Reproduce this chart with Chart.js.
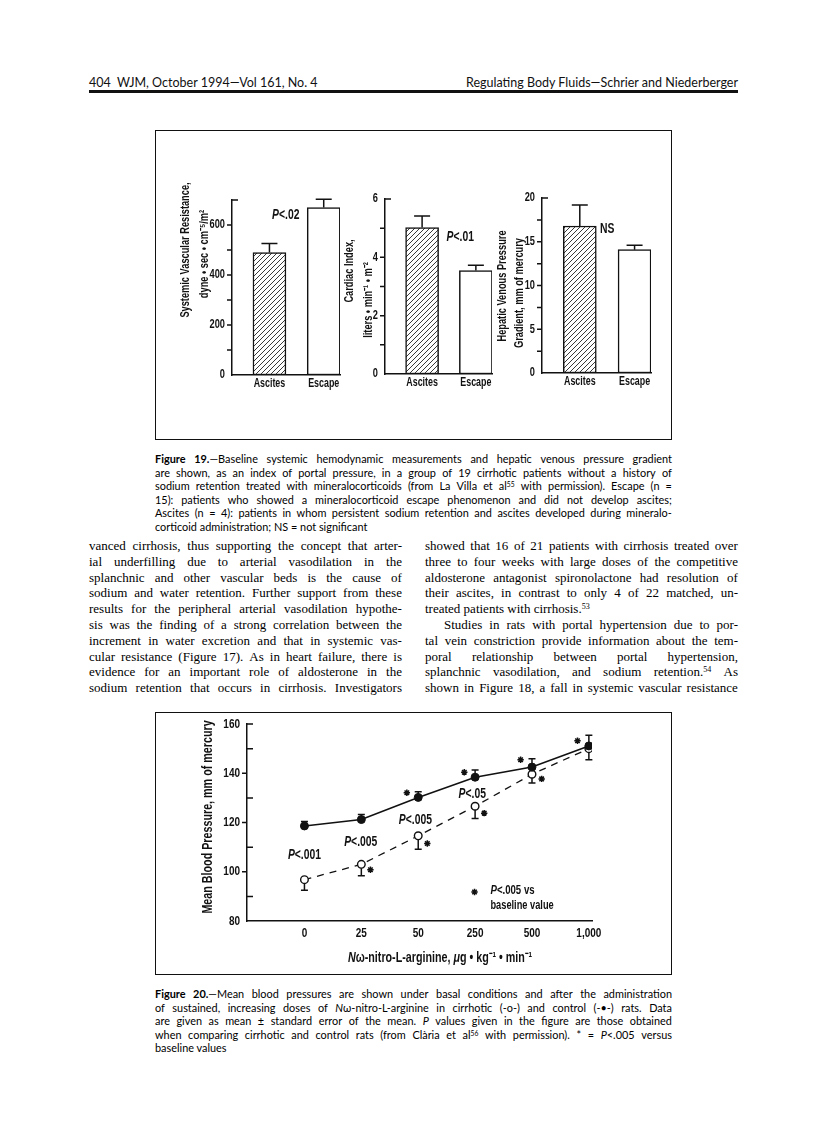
<!DOCTYPE html>
<html>
<head>
<meta charset="utf-8">
<script src="https://cdn.jsdelivr.net/npm/chart.js@4.4.0/dist/chart.umd.min.js"></script>
<style>
html, body { margin: 0; padding: 0; background: #fff; }
body { width: 816px; height: 1121px; position: relative; overflow: hidden; color: #111; }
.abs { position: absolute; }
.hdr { font-family: Lato, "Open Sans", sans-serif; font-size: 12.5px; line-height: 15px; top: 75px; white-space: nowrap; }
.rule { left: 89px; width: 649px; top: 90px; height: 3px; background: #111; }
.box { border: 1.5px solid #111; box-sizing: border-box; }
.cap { font-family: Lato, "Open Sans", sans-serif; font-size: 10.9px; line-height: 13.5px; left: 155px; width: 517px; color: #000; }
.body { font-family: "Liberation Serif", "Times New Roman", serif; font-size: 13px; line-height: 15.8px; width: 313px; color: #000; }
.j { display: flex; justify-content: space-between; white-space: nowrap; }
.l { white-space: nowrap; }
.ind { padding-left: 19px; }
sup { font-size: 62%; line-height: 0; vertical-align: 0.45em; }
canvas { position: absolute; }
</style>
</head>
<body>

<div class="abs hdr" style="left:89px">404&nbsp;&nbsp;WJM, October 1994—Vol 161, No. 4</div>
<div class="abs hdr" style="right:78px">Regulating Body Fluids—Schrier and Niederberger</div>
<div class="abs rule"></div>

<!-- Figure 19 -->
<div class="abs box" style="left:155px;top:130px;width:517px;height:310px"></div>
<canvas id="svrChart" width="190" height="225" style="left:160px;top:180px"></canvas>
<canvas id="ciChart" width="165" height="225" style="left:338px;top:180px"></canvas>
<canvas id="hvpgChart" width="170" height="225" style="left:492px;top:180px"></canvas>

<div class="abs cap" style="top:452px">
  <div class="j"><b>Figure</b> <b>19.</b>—Baseline systemic hemodynamic measurements and hepatic venous pressure gradient</div>
  <div class="j">are shown, as an index of portal pressure, in a group of 19 cirrhotic patients without a history of</div>
  <div class="j">sodium retention treated with mineralocorticoids (from La Villa et al<sup>55</sup> with permission). Escape (n =</div>
  <div class="j">15): patients who showed a mineralocorticoid escape phenomenon and did not develop ascites;</div>
  <div class="j">Ascites (n = 4): patients in whom persistent sodium retention and ascites developed during mineralo-</div>
  <div class="l">corticoid administration; NS = not significant</div>
</div>

<div class="abs body" style="left:89px;top:538px">
  <div class="j">vanced cirrhosis, thus supporting the concept that arter-</div>
  <div class="j">ial underfilling due to arterial vasodilation in the</div>
  <div class="j">splanchnic and other vascular beds is the cause of</div>
  <div class="j">sodium and water retention. Further support from these</div>
  <div class="j">results for the peripheral arterial vasodilation hypothe-</div>
  <div class="j">sis was the finding of a strong correlation between the</div>
  <div class="j">increment in water excretion and that in systemic vas-</div>
  <div class="j">cular resistance (Figure 17). As in heart failure, there is</div>
  <div class="j">evidence for an important role of aldosterone in the</div>
  <div class="j">sodium retention that occurs in cirrhosis. Investigators</div>
</div>
<div class="abs body" style="left:425px;top:538px">
  <div class="j">showed that 16 of 21 patients with cirrhosis treated over</div>
  <div class="j">three to four weeks with large doses of the competitive</div>
  <div class="j">aldosterone antagonist spironolactone had resolution of</div>
  <div class="j">their ascites, in contrast to only 4 of 22 matched, un-</div>
  <div class="l">treated patients with cirrhosis.<sup>53</sup></div>
  <div class="j ind">Studies in rats with portal hypertension due to por-</div>
  <div class="j">tal vein constriction provide information about the tem-</div>
  <div class="j">poral relationship between portal hypertension,</div>
  <div class="j">splanchnic vasodilation, and sodium retention.<sup>54</sup> As</div>
  <div class="j">shown in Figure 18, a fall in systemic vascular resistance</div>
</div>

<!-- Figure 20 -->
<div class="abs box" style="left:155px;top:712px;width:517px;height:263px"></div>
<canvas id="mapChart" width="517" height="263" style="left:155px;top:712px"></canvas>

<div class="abs cap" style="top:987px">
  <div class="j"><b>Figure</b> <b>20.</b>—Mean blood pressures are shown under basal conditions and after the administration</div>
  <div class="j">of sustained, increasing doses of <i>N</i>ω-nitro-L-arginine in cirrhotic (-o-) and control (-•-) rats. Data</div>
  <div class="j">are given as mean ± standard error of the mean. <i>P</i> values given in the figure are those obtained</div>
  <div class="j">when comparing cirrhotic and control rats (from Clària et al<sup>56</sup> with permission). * = <i>P</i>&lt;.005 versus</div>
  <div class="l">baseline values</div>
</div>

<script>
"use strict";

// ---- figure 19 data ----
var groups = ["Ascites", "Escape"];
var svrMean = [490, 670];
var svrSem = [36, 33];
var ciMean = [5.02, 3.55];
var ciSem = [0.4, 0.18];
var hvpgMean = [16.8, 14.1];
var hvpgSem = [2.4, 0.5];

// ---- figure 20 data ----
var doses = ["0", "25", "50", "250", "500", "1,000"];
var controlMean = [118.6, 121.2, 130.2, 138.4, 142.5, 151.1];
var controlSem = [1.8, 2, 2.3, 2.9, 3.4, 4.3];
var cirrhoticMean = [96.8, 103, 114.6, 126.6, 139.6, 150];
var cirrhoticSem = [4.3, 4.6, 5.5, 5, 3.6, 4.5];
// asterisks = P<.005 vs baseline, sitting beside the points
var starX = [1.8, 2.81, 3.8, 4.8, 1.16, 2.16, 3.16, 4.17, 5.15];
var starY = [132.1, 140.4, 145.5, 153.2, 100.8, 111.5, 123.8, 137.7, 147.8];
var keyStarX = [2.99];
var keyStarY = [91.8];
// P values between the two groups
var pNotes = ["P<.001", "P<.005", "P<.005", "P<.05"];
var pNoteX = [0, 0.99, 1.95, 2.95];
var pNoteY = [106.6, 112.2, 120.9, 131.4];

var INK = "#111";
var SANS = '"Liberation Sans", Arial, sans-serif';
var SQUEEZE = 0.74; // helvetica condensed look

Chart.defaults.font.family = SANS;
Chart.defaults.color = INK;
Chart.defaults.animation = false;
Chart.defaults.plugins.legend.display = false;
Chart.defaults.plugins.tooltip.enabled = false;

// split justified lines into words
document.querySelectorAll(".j").forEach(function (el) {
  el.innerHTML = el.innerHTML.trim().split(/\s+/).map(function (w) {
    return "<span>" + w + "</span>";
  }).join("");
});

// text pieces, "P" in italic
function pSegs(str) {
  if (str.charAt(0) == "P") return [{ t: "P", i: true }, { t: str.slice(1) }];
  return [{ t: str }];
}

function richText(ctx, segs, x, y, size, align, weight) {
  var fonts = segs.map(function (s) {
    return (s.i ? "italic " : "") + (weight || "bold") + " " + size + "px " + SANS;
  });
  var w = 0;
  segs.forEach(function (s, k) { ctx.font = fonts[k]; w += ctx.measureText(s.t).width * SQUEEZE; });
  var cx = align == "center" ? x - w / 2 : align == "right" ? x - w : x;
  ctx.textAlign = "left";
  ctx.textBaseline = "middle";
  segs.forEach(function (s, k) {
    ctx.font = fonts[k];
    ctx.save();
    ctx.translate(cx, y);
    ctx.scale(SQUEEZE, 1);
    ctx.fillText(s.t, 0, 0);
    ctx.restore();
    cx += ctx.measureText(s.t).width * SQUEEZE;
  });
}

// texts: either at a data point (x,y) or at a canvas spot (px,py)
function textLayer(items) {
  return {
    id: "textLayer",
    afterDraw: function (chart) {
      var ctx = chart.ctx, xs = chart.scales.x, ys = chart.scales.y;
      ctx.save();
      ctx.fillStyle = INK;
      items.forEach(function (it) {
        var x = it.px, y = it.py;
        if (it.x !== undefined) { x = xs.getPixelForValue(it.x); y = ys.getPixelForValue(it.y); }
        ctx.save();
        ctx.translate(x, y);
        if (it.rot) ctx.rotate(-Math.PI / 2);
        richText(ctx, it.segs, 0, 0, it.size, it.align || "center", it.weight);
        ctx.restore();
      });
      ctx.restore();
    }
  };
}

// tick marks and tick labels in the condensed face, taken from the chart's scales
function axisDecor(cfg) {
  return {
    id: "axisDecor",
    afterDraw: function (chart) {
      var ys = chart.scales.y, xs = chart.scales.x, ctx = chart.ctx, area = chart.chartArea;
      var x0 = area.left;
      ctx.save();
      ctx.strokeStyle = INK;
      ctx.fillStyle = INK;
      ctx.lineWidth = 1.5;
      ctx.beginPath();
      ys.ticks.forEach(function (t) {
        var y = ys.getPixelForValue(t.value);
        var r = t.value / cfg.majorStep;
        var major = Math.abs(r - Math.round(r)) < 1e-6;
        if (t.label !== "") richText(ctx, [{ t: String(t.label) }], x0 - cfg.yGap, y, cfg.size, "right");
        if (t.value == ys.min) return;
        var inward = t.value == ys.max || (!major && cfg.minorIn);
        ctx.moveTo(x0, y);
        ctx.lineTo(inward ? x0 + 6 : x0 - 5, y);
      });
      ctx.stroke();
      xs.ticks.forEach(function (t) {
        richText(ctx, [{ t: String(t.label) }], xs.getPixelForValue(t.value), area.bottom + cfg.xOff, cfg.xSize || cfg.size, "center");
      });
      ctx.restore();
    }
  };
}

var errorBars = {
  id: "errorBars",
  beforeDatasetsDraw: function (chart) {
    var ctx = chart.ctx, ys = chart.scales.y;
    chart.data.datasets.forEach(function (ds, i) {
      if (!ds.errors) return;
      var meta = chart.getDatasetMeta(i);
      ctx.save();
      ctx.strokeStyle = INK;
      ctx.lineWidth = 1.5;
      ctx.beginPath();
      meta.data.forEach(function (el, k) {
        var v = ds.data[k].y;
        var y0 = ys.getPixelForValue(v);
        var y1 = ys.getPixelForValue(v + ds.errors[k] * ds.errDir);
        var half = ds.errCap / 2;
        ctx.moveTo(el.x, y0);
        ctx.lineTo(el.x, y1);
        ctx.moveTo(el.x - half, y1);
        ctx.lineTo(el.x + half, y1);
      });
      ctx.stroke();
      ctx.restore();
    });
  }
};

function hatch() {
  var c = document.createElement("canvas");
  c.width = c.height = 5;
  var g = c.getContext("2d");
  g.fillStyle = "#fff";
  g.fillRect(0, 0, 5, 5);
  g.strokeStyle = "#222";
  g.lineWidth = 0.9;
  g.beginPath();
  g.moveTo(0, 5); g.lineTo(5, 0);
  g.moveTo(-1, 1); g.lineTo(1, -1);
  g.moveTo(4, 6); g.lineTo(6, 4);
  g.stroke();
  return g.createPattern(c, "repeat");
}

function barChart(id, means, sems, yMax, step, majorStep, note, titles, area) {
  return new Chart(document.getElementById(id), {
    type: "bar",
    data: {
      datasets: [{
        data: groups.map(function (g, i) { return { x: i + 1, y: means[i] }; }),
        backgroundColor: [hatch(), "#fff"],
        borderColor: INK,
        borderWidth: 1.5,
        borderSkipped: false,
        barThickness: 33,
        errors: sems,
        errDir: 1,
        errCap: 16
      }]
    },
    options: {
      responsive: false,
      devicePixelRatio: 1,
      layout: { padding: { top: area.top, right: area.right, left: 0, bottom: 0 } },
      scales: {
        x: {
          type: "linear",
          min: 0.31,
          max: 2.3,
          offset: false,
          afterBuildTicks: function (s) { s.ticks = groups.map(function (g, i) { return { value: i + 1 }; }); },
          ticks: { display: false, callback: function (v) { return groups[v - 1]; } },
          grid: { display: false, drawTicks: false },
          border: { display: true, color: INK, width: 1.5 },
          afterFit: function (s) { s.height = area.bottom; }
        },
        y: {
          min: 0,
          max: yMax,
          ticks: {
            display: false,
            stepSize: step,
            autoSkip: false,
            callback: function (v) { var r = v / majorStep; return Math.abs(r - Math.round(r)) < 1e-6 ? v : ""; }
          },
          grid: { display: false, drawTicks: false },
          border: { display: true, color: INK, width: 1.5 },
          afterFit: function (s) { s.width = area.left; }
        }
      }
    },
    plugins: [
      errorBars,
      axisDecor({ majorStep: majorStep, minorIn: false, size: 12.5, xSize: 12, yGap: 7, xOff: 9 }),
      textLayer(titles.concat([{ x: note.x, y: note.y, segs: pSegs(note.text), size: 14 }]))
    ]
  });
}

barChart("svrChart", svrMean, svrSem, 700, 100, 200,
  { text: "P<.02", x: 1.3, y: 640 },
  [
    { px: 26, py: 70, rot: true, size: 12.5, segs: [{ t: "Systemic Vascular Resistance," }] },
    { px: 45, py: 74, rot: true, size: 12.5, segs: [{ t: "dyne • sec • cm⁻⁵/m²" }] }
  ],
  { left: 72, top: 20, right: 10, bottom: 30 });

barChart("ciChart", ciMean, ciSem, 6, 1, 2,
  { text: "P<.01", x: 1.71, y: 4.68 },
  [
    { px: 12, py: 91, rot: true, size: 12.5, segs: [{ t: "Cardiac Index," }] },
    { px: 31, py: 120, rot: true, size: 12.5, segs: [{ t: "liters • min⁻¹ • m⁻²" }] }
  ],
  { left: 47, top: 19, right: 11, bottom: 31 });

barChart("hvpgChart", hvpgMean, hvpgSem, 20, 2.5, 5,
  { text: "NS", x: 1.5, y: 16.46 },
  [
    { px: 11, py: 106, rot: true, size: 12.5, segs: [{ t: "Hepatic Venous Pressure" }] },
    { px: 28, py: 113, rot: true, size: 12.5, segs: [{ t: "Gradient, mm of mercury" }] }
  ],
  { left: 50, top: 18, right: 11, bottom: 32 });

// ---- figure 20 ----
var fig20Texts = pNotes.map(function (t, i) {
  return { x: pNoteX[i], y: pNoteY[i], segs: pSegs(t), size: 14 };
});
fig20Texts.push({ x: 3.27, y: 92.6, segs: pSegs("P<.005 vs"), size: 13, align: "left" });
fig20Texts.push({ x: 3.27, y: 86.4, segs: [{ t: "baseline value" }], size: 12.5, align: "left" });
fig20Texts.push({ px: 53, py: 105, rot: true, size: 14.5, segs: [{ t: "Mean Blood Pressure, mm of mercury" }] });
fig20Texts.push({ px: 285, py: 246, size: 14.5, segs: [
  { t: "N", i: true }, { t: "ω-nitro-L-arginine, " }, { t: "μ", i: true }, { t: "g • kg⁻¹ • min⁻¹" }
] });

new Chart(document.getElementById("mapChart"), {
  type: "line",
  data: {
    datasets: [
      {
        label: "Control",
        data: doses.map(function (d, i) { return { x: i, y: controlMean[i] }; }),
        borderColor: INK,
        borderWidth: 1.6,
        pointRadius: 4,
        pointBackgroundColor: INK,
        pointBorderColor: INK,
        pointBorderWidth: 1,
        tension: 0,
        errors: controlSem,
        errDir: 1,
        errCap: 7,
        order: 0
      },
      {
        label: "Cirrhotic",
        data: doses.map(function (d, i) { return { x: i, y: cirrhoticMean[i] }; }),
        borderColor: INK,
        borderWidth: 1.3,
        borderDash: [7, 6],
        pointRadius: 3.8,
        pointBackgroundColor: "#fff",
        pointBorderColor: INK,
        pointBorderWidth: 1.4,
        tension: 0,
        errors: cirrhoticSem,
        errDir: -1,
        errCap: 7,
        order: 1
      },
      {
        type: "scatter",
        data: starX.map(function (x, i) { return { x: x, y: starY[i] }; })
          .concat(keyStarX.map(function (x, i) { return { x: x, y: keyStarY[i] }; })),
        pointStyle: "star",
        pointRadius: 3.2,
        borderColor: INK,
        borderWidth: 1.5,
        showLine: false,
        order: 2
      }
    ]
  },
  options: {
    responsive: false,
    devicePixelRatio: 1,
    layout: { padding: { top: 12, right: 80, left: 0, bottom: 0 } },
    scales: {
      x: {
        type: "linear",
        min: -1.01,
        max: 5.055,
        offset: false,
        afterBuildTicks: function (s) { s.ticks = doses.map(function (d, i) { return { value: i }; }); },
        ticks: { display: false, callback: function (v) { return doses[v]; } },
        grid: { display: false, drawTicks: false },
        border: { display: true, color: INK, width: 1.5 },
        afterFit: function (s) { s.height = 54; }
      },
      y: {
        min: 80,
        max: 160,
        ticks: {
          display: false,
          stepSize: 10,
          autoSkip: false,
          callback: function (v) { return v % 20 == 0 ? v : ""; }
        },
        grid: { display: false, drawTicks: false },
        border: { display: true, color: INK, width: 1.5 },
        afterFit: function (s) { s.width = 92; }
      }
    }
  },
  plugins: [errorBars, axisDecor({ majorStep: 20, minorIn: true, size: 13.5, yGap: 7, xOff: 12 }), textLayer(fig20Texts)]
});
</script>
</body>
</html>
